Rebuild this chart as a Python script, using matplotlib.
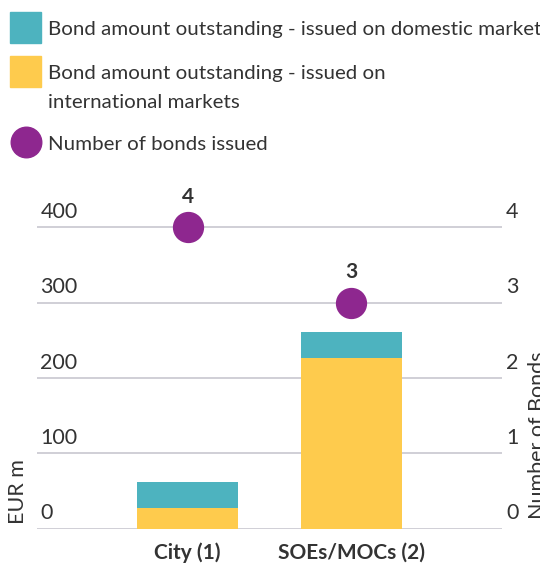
import matplotlib
matplotlib.use("Agg")
import matplotlib.pyplot as plt
from matplotlib.patches import Rectangle

categories = ["City (1)", "SOEs/MOCs (2)"]
international = [27, 226]
domestic = [35, 35]
bonds_issued = [4, 3]
left_ticks = [0, 100, 200, 300, 400]
right_ticks = [0, 1, 2, 3, 4]

teal = "#4DB3BF"
yellow = "#FECB4D"
purple = "#8E278F"
grid_col = "#C4C2CC"
txt = "#333333"

plt.rcParams['font.family'] = ['Lato', 'DejaVu Sans']

W, H = 540, 566
fig = plt.figure(figsize=(W / 100, H / 100), dpi=100)

def fx(px):
    return px / W

def fy(py):
    return 1 - py / H

ax_l, ax_r, ax_b = 37, 502, 528.5
ymax = 450
ax_t = ax_b - ymax * 0.753
ax = fig.add_axes([fx(ax_l), fy(ax_b), fx(ax_r - ax_l), fy(ax_t) - fy(ax_b)])
x = list(range(len(categories)))
ax.set_xlim(-0.92, 1.92)
ax.set_ylim(0, ymax)

for v in left_ticks:
    ax.axhline(v, color=grid_col, lw=1.1, zorder=1)
    ax.text(-0.90, v + 7, str(v), fontsize=15.5, color=txt, va="bottom", ha="left")

ax.bar(x, international, width=0.62, color=yellow, zorder=2)
ax.bar(x, domestic, width=0.62, bottom=international, color=teal, zorder=2)

ax2 = ax.twinx()
ax2.set_ylim(0, ymax / 100)
ax2.set_xlim(ax.get_xlim())
ax2.plot(x, bonds_issued, "o", ms=21.5, color=purple, zorder=3, clip_on=False)
for xi, n in zip(x, bonds_issued):
    ax2.annotate(str(n), (xi, n), xytext=(0, 14.5), textcoords="offset points",
                 ha="center", va="bottom", fontsize=15, fontweight="bold", color=txt)
for v in right_ticks:
    ax2.text(1.035, v + 0.07, str(v), fontsize=15.5, color=txt, va="bottom", ha="right",
             transform=ax2.get_yaxis_transform())

for a in (ax, ax2):
    for s in a.spines.values():
        s.set_visible(False)
    a.set_xticks([])
    a.set_yticks([])

for xi, c in zip(x, categories):
    ax.text(xi, -19, c, ha="center", va="top", fontsize=15, fontweight="bold", color=txt)

fig.text(fx(18), fy(492), "EUR m", rotation=90, ha="center", va="center",
         fontsize=15.5, color=txt)
fig.text(fx(528), fy(519), "Number of Bonds", rotation=90, ha="left", va="bottom",
         fontsize=15.5, color=txt)

# legend
legend_items = [
    ("sq", teal, 27, "Bond amount outstanding - issued on domestic market"),
    ("sq", yellow, 71, "Bond amount outstanding - issued on\ninternational markets"),
    ("ci", purple, 142, "Number of bonds issued"),
]
for kind, col, cy, label in legend_items:
    if kind == "sq":
        fig.patches.append(Rectangle((fx(10), fy(cy + 15.5)), fx(31), fy(cy - 15.5) - fy(cy + 15.5),
                                     color=col, transform=fig.transFigure, figure=fig))
    else:
        ax.plot([fx(25.5)], [fy(cy)], "o", ms=22, color=col, transform=fig.transFigure,
                clip_on=False)
    fig.text(fx(48), fy(cy - 6), label, ha="left", va="top", fontsize=14.75, color=txt,
             linespacing=1.85)

fig.savefig("out.png", dpi=100)
